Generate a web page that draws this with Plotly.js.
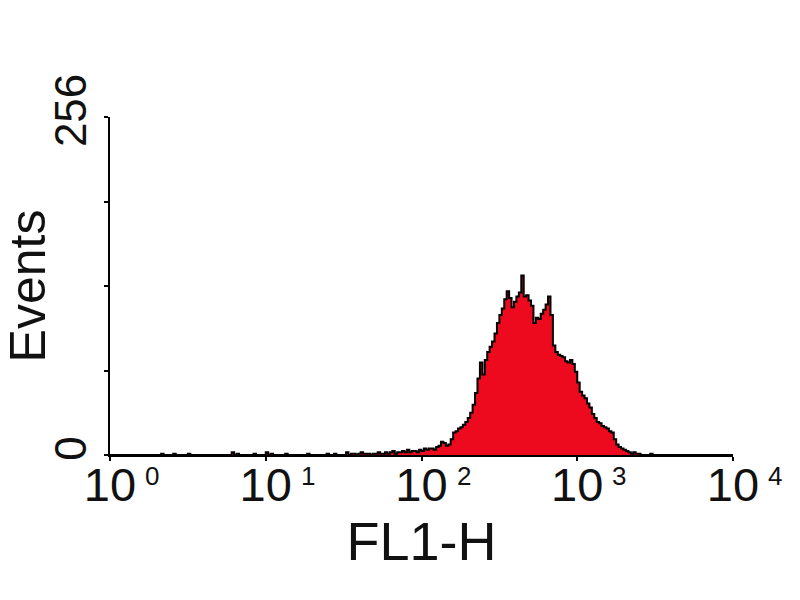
<!DOCTYPE html>
<html>
<head>
<meta charset="utf-8">
<script src="https://cdn.plot.ly/plotly-3.0.1.min.js"></script>
<style>
  html, body { margin: 0; padding: 0; background: #fff; }
  #chart { width: 800px; height: 600px; }
</style>
</head>
<body>
<div id="chart"></div>
<script>
// ---- data ----
const channelsPerDecade = 64;
const totalChannels = 256;

// sparse low-level events
const noiseChannels = [21, 26, 32, 50, 52, 59, 64, 66, 72, 81, 89, 92, 97, 99];
const noiseCounts   = [1, 1, 1, 2, 1, 1, 2, 1, 1, 1, 1, 1, 2, 1];

// contiguous counts starting at channel 100
const peakStartChannel = 100;
const peakCounts = [
  1,0,1,2,1,1,1,0,1,1,2,1,1,2,1,2,3,1,2,2,3,2,4,2,3,3,2,4,3,5,4,
  5,5,4,6,7,10,9,7,8,12,
  17,18,20,21,23,25,28,32,38,47,
  58,70,61,72,78,82,86,92,100,106,
  111,118,124,119,112,116,120,123,136,120,
  121,117,113,100,104,103,107,110,114,120,
  106,83,78,76,75,74,71,70,72,69,
  63,55,48,45,43,39,36,31,28,25,
  24,22,21,20,18,17,12,8,6,5,
  4,3,2,1,2,1,1,0,0,0,0,1
];

const xTickVals = [1, 10, 100, 1000, 10000];
const xTickBase = ['10', '10', '10', '10', '10'];
const xTickExp  = ['0', '1', '2', '3', '4'];
const yTickVals = [0, 64, 128, 192, 256];
const yTickText = ['0', '', '', '', '256'];

// ---- build histogram arrays ----
const counts = new Array(totalChannels).fill(0);
noiseChannels.forEach((c, i) => { counts[c] = noiseCounts[i]; });
peakCounts.forEach((v, i) => { counts[peakStartChannel + i] = v; });
const xs = [];
const ys = [];
for (let c = 0; c < totalChannels; c++) {
  xs.push(Math.pow(10, c / channelsPerDecade));
  ys.push(counts[c]);
}
xs.push(Math.pow(10, totalChannels / channelsPerDecade));
ys.push(0);

const trace = {
  type: 'scatter',
  mode: 'lines',
  x: xs,
  y: ys,
  line: { shape: 'hv', color: '#000', width: 2 },
  fill: 'tozeroy',
  fillcolor: 'rgb(238,10,30)',
  hoverinfo: 'skip'
};

const FONT = 'Liberation Sans, Arial, sans-serif';

const supAnnotations = xTickVals.map((v, i) => ({
  x: Math.log10(v), xref: 'x',
  y: -0.012, yref: 'paper',
  xshift: 33,
  xanchor: 'left', yanchor: 'top',
  text: xTickExp[i],
  showarrow: false,
  font: { family: FONT, size: 26, color: '#111' }
}));

const layout = {
  width: 800, height: 600,
  margin: { l: 110, r: 67, t: 117, b: 145 },
  paper_bgcolor: '#fff',
  plot_bgcolor: '#fff',
  showlegend: false,
  xaxis: {
    type: 'log',
    range: [0, 4],
    tickvals: xTickVals,
    ticktext: xTickBase,
    ticks: 'outside', ticklen: 4, tickwidth: 2, tickcolor: '#000',
    ticklabelstandoff: -16,
    showline: true, linecolor: '#000', linewidth: 2,
    showgrid: false, zeroline: false,
    tickfont: { family: FONT, size: 47, color: '#111' },
    title: { text: 'FL1-H', font: { family: FONT, size: 54, color: '#111' }, standoff: 0 },
    fixedrange: true
  },
  yaxis: {
    range: [0, 256],
    tickvals: yTickVals,
    ticktext: yTickText,
    tickangle: -90,
    ticks: 'outside', ticklen: 4, tickwidth: 2, tickcolor: '#000',
    showline: true, linecolor: '#000', linewidth: 2.5,
    showgrid: false, zeroline: false,
    tickfont: { family: FONT, size: 44, color: '#111' },
    title: { text: 'Events', font: { family: FONT, size: 50, color: '#111' } },
    fixedrange: true
  },
  annotations: supAnnotations
};

Plotly.newPlot('chart', [trace], layout, { displayModeBar: false, staticPlot: true });
</script>
</body>
</html>
